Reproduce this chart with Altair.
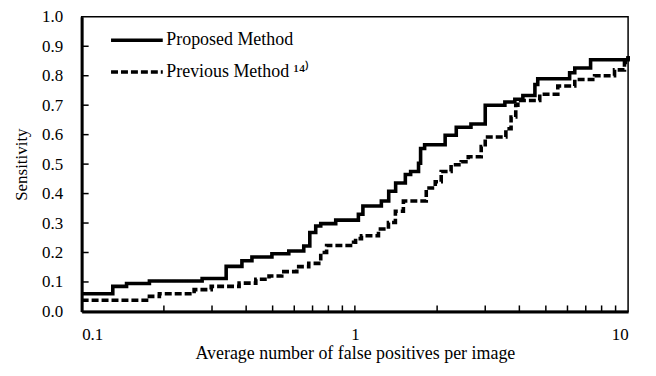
import altair as alt
import pandas as pd

# Proposed method (solid) step curve: false positives per image vs sensitivity
prop_fp = [0.1, 0.13, 0.146, 0.177, 0.276, 0.338, 0.386, 0.42, 0.497, 0.573, 0.65, 0.684,
           0.719, 0.75, 0.851, 1.03, 1.07, 1.25, 1.33, 1.41, 1.53, 1.6, 1.71, 1.74, 1.8,
           2.14, 2.35, 2.66, 3.0, 3.54, 3.85, 4.12, 4.56, 4.67, 6.11, 6.38, 7.29, 10.0]
prop_sens = [0.06, 0.085, 0.095, 0.103, 0.112, 0.153, 0.172, 0.185, 0.196, 0.205, 0.222, 0.268,
             0.29, 0.298, 0.31, 0.33, 0.358, 0.375, 0.408, 0.436, 0.465, 0.475, 0.503, 0.553, 0.566,
             0.598, 0.625, 0.636, 0.70, 0.711, 0.72, 0.733, 0.77, 0.79, 0.81, 0.826, 0.854, 0.867]

# Previous method (dashed)
prev_fp = [0.1, 0.177, 0.1925, 0.258, 0.298, 0.377, 0.434, 0.485, 0.54, 0.613, 0.678, 0.75,
           0.788, 0.989, 1.006, 1.057, 1.22, 1.327, 1.407, 1.505, 1.825, 1.969, 2.07, 2.25,
           2.45, 2.6, 2.9, 3.0, 3.57, 3.73, 3.88, 3.95, 4.75, 5.53, 6.38, 7.54, 8.92, 9.7, 10.0]
prev_sens = [0.038, 0.051, 0.06, 0.074, 0.085, 0.096, 0.109, 0.12, 0.135, 0.152, 0.163, 0.20,
             0.224, 0.235, 0.247, 0.257, 0.28, 0.302, 0.34, 0.375, 0.419, 0.44, 0.475, 0.498,
             0.508, 0.525, 0.56, 0.592, 0.62, 0.66, 0.70, 0.716, 0.737, 0.765, 0.787, 0.80, 0.82, 0.845, 0.865]

series_names = ["Proposed Method", "Previous Method \u00b9\u2074\u207e"]

x_minor = [0.2, 0.3, 0.4, 0.5, 0.6, 0.7, 0.8, 0.9, 1, 2, 3, 4, 5, 6, 7, 8, 9]
y_minor = [0.1, 0.2, 0.3, 0.4, 0.5, 0.6, 0.7, 0.8, 0.9]
y_labels = [0.0, 0.1, 0.2, 0.3, 0.4, 0.5, 0.6, 0.7, 0.8, 0.9, 1.0]
x_labels = [0.1, 1, 10]

df = pd.concat([
    pd.DataFrame({"fp": prop_fp, "sens": prop_sens, "series": series_names[0]}),
    pd.DataFrame({"fp": prev_fp, "sens": prev_sens, "series": series_names[1]}),
])

W, H = 549, 296
FONT = "Liberation Serif"

xscale = alt.Scale(type="log", domain=[0.1, 10], nice=False)
yscale = alt.Scale(domain=[0, 1], nice=False)

x_axis = alt.Axis(values=x_labels, format="~g", title="Average number of false positives per image",
                  ticks=False, grid=False, labelPadding=15, titlePadding=2, labelOverlap=False,
                  domainWidth=3, domainColor="black", titleFontSize=18)
y_axis = alt.Axis(values=y_labels, format=".1f", labelOverlap=False,
                  title="Sensitivity", ticks=False, grid=False, labelPadding=19,
                  titleX=-60, titleY=H / 2, titleAlign="center", titleBaseline="middle",
                  domainWidth=3, domainColor="black")

lines = alt.Chart(df).mark_line(interpolate="step-after", strokeWidth=3.6, color="black").encode(
    x=alt.X("fp:Q", scale=xscale, axis=x_axis),
    y=alt.Y("sens:Q", scale=yscale, axis=y_axis),
    strokeDash=alt.StrokeDash("series:N",
                              scale=alt.Scale(domain=series_names, range=[[1, 0], [7, 3]]),
                              legend=alt.Legend(title=None, orient="none", legendX=45, legendY=13,
                                                symbolType="M-3,0H3", symbolSize=300,
                                                symbolStrokeWidth=3.6, symbolStrokeColor="black",
                                                symbolFillColor="transparent",
                                                labelFont=FONT, labelFontSize=18, labelColor="black",
                                                rowPadding=12, labelOffset=19)),
    order="fp:Q",
)

xt = alt.Chart(pd.DataFrame({"fp": x_minor})).mark_rule(color="black", strokeWidth=1.5).encode(
    x=alt.X("fp:Q", scale=xscale, axis=x_axis), y=alt.value(H), y2=alt.value(H - 6))
yt = alt.Chart(pd.DataFrame({"sens": y_minor})).mark_rule(color="black", strokeWidth=1.5).encode(
    y=alt.Y("sens:Q", scale=yscale, axis=y_axis), x=alt.value(0), x2=alt.value(7))

chart = alt.layer(lines, xt, yt).properties(
    width=W, height=H,
    autosize=alt.AutoSizeParams(type="none"),
    padding={"left": 74, "top": 8, "right": 20, "bottom": 56},
    background="white",
).configure_view(stroke="black", strokeWidth=1.5).configure_axis(
    labelFont=FONT, labelFontSize=17, labelColor="black",
    titleFont=FONT, titleFontSize=17, titleColor="black", titleFontWeight="normal",
)

chart.save("out.html", embed_options={"renderer": "svg", "actions": False})
